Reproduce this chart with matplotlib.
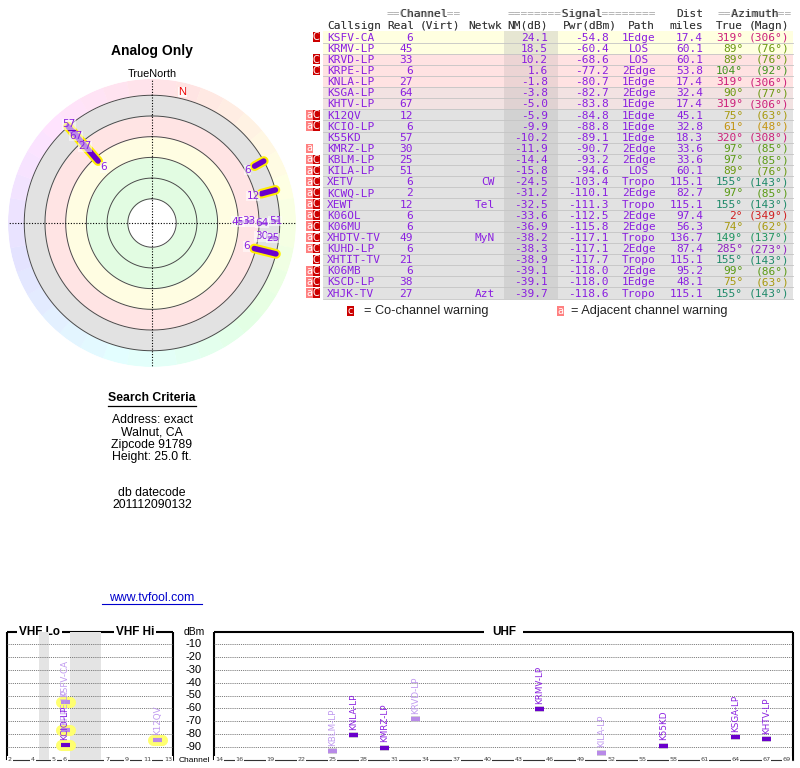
import colorsys
import numpy as np
import matplotlib
matplotlib.use("Agg")
import matplotlib.pyplot as plt
import matplotlib.patheffects as pe
import matplotlib.transforms as mtransforms
from matplotlib.patches import Rectangle

# ---- station table ----
callsigns = ['KSFV-CA', 'KRMV-LP', 'KRVD-LP', 'KRPE-LP', 'KNLA-LP', 'KSGA-LP', 'KHTV-LP',
             'K12QV', 'KCIO-LP', 'K55KD', 'KMRZ-LP', 'KBLM-LP', 'KILA-LP', 'XETV',
             'KCWQ-LP', 'XEWT', 'K06OL', 'K06MU', 'XHDTV-TV', 'KUHD-LP', 'XHTIT-TV',
             'K06MB', 'KSCD-LP', 'XHJK-TV']
real_ch = [6, 45, 33, 6, 27, 64, 67, 12, 6, 57, 30, 25, 51, 6, 2, 12, 6, 6, 49, 6, 21, 6, 38, 27]
networks = ['', '', '', '', '', '', '', '', '', '', '', '', '', 'CW', '', 'Tel', '', '', 'MyN',
            '', '', '', '', 'Azt']
nm_db = [24.1, 18.5, 10.2, 1.6, -1.8, -3.8, -5.0, -5.9, -9.9, -10.2, -11.9, -14.4, -15.8,
         -24.5, -31.2, -32.5, -33.6, -36.9, -38.2, -38.3, -38.9, -39.1, -39.1, -39.7]
pwr_dbm = [-54.8, -60.4, -68.6, -77.2, -80.7, -82.7, -83.8, -84.8, -88.8, -89.1, -90.7, -93.2,
           -94.6, -103.4, -110.1, -111.3, -112.5, -115.8, -117.1, -117.1, -117.7, -118.0,
           -118.0, -118.6]
paths = ['1Edge', 'LOS', 'LOS', '2Edge', '1Edge', '2Edge', '1Edge', '1Edge', '1Edge', '1Edge',
         '2Edge', '2Edge', 'LOS', 'Tropo', '2Edge', 'Tropo', '2Edge', '2Edge', 'Tropo', '2Edge',
         'Tropo', '2Edge', '1Edge', 'Tropo']
dist_mi = [17.4, 60.1, 60.1, 53.8, 17.4, 32.4, 17.4, 45.1, 32.8, 18.3, 33.6, 33.6, 60.1, 115.1,
           82.7, 115.1, 97.4, 56.3, 136.7, 87.4, 115.1, 95.2, 48.1, 115.1]
az_true = [319, 89, 89, 104, 319, 90, 319, 75, 61, 320, 97, 97, 89, 155, 97, 155, 2, 74, 149,
           285, 155, 99, 75, 155]
az_magn = [306, 76, 76, 92, 306, 77, 306, 63, 48, 308, 85, 85, 76, 143, 85, 143, 349, 62, 137,
           273, 143, 86, 63, 143]
warnings = ['C', '', 'C', 'C', '', '', '', 'aC', 'aC', '', 'a', 'aC', 'aC', 'aC', 'aC', 'aC',
            'aC', 'aC', 'aC', 'aC', 'C', 'aC', 'aC', 'aC']
faded = ['KSFV-CA', 'KRVD-LP', 'KRPE-LP', 'K12QV', 'KBLM-LP', 'KILA-LP']
magnetic_decl = 13

criteria = ['Address: exact', 'Walnut, CA', 'Zipcode 91789', 'Height: 25.0 ft.']
datecode = '201112090132'

vhf_ticks = [2, 4, 5, 6, 7, 9, 11, 13]
uhf_ticks = [14, 16, 19, 22, 25, 28, 31, 34, 37, 40, 43, 46, 49, 52, 55, 58, 61, 64, 67, 69]
dbm_ticks = [-10, -20, -30, -40, -50, -60, -70, -80, -90]

# colours
PURPLE = '#8a1fe0'
BAR = '#6a00cc'
az_colors = {319: '#cc1f7a', 320: '#cc1f7a', 89: '#6b9910', 90: '#6b9910', 104: '#3f9420',
             97: '#5a9a14', 99: '#5a9a14', 75: '#a89a10', 74: '#a89a10', 61: '#c49410',
             155: '#1f8a6a', 149: '#1f9460', 2: '#d01f1f', 285: '#9020c0'}

SANS = 'Liberation Sans'
MONO = 'DejaVu Sans Mono'
BASE = 3.6  # baseline offset below row centre (px)

fig = plt.figure(figsize=(8, 7.68), dpi=100)
bg = fig.add_axes([0, 0, 1, 1])
bg.set_xlim(0, 800)
bg.set_ylim(768, 0)
bg.axis('off')

# ---------------- table ----------------
row_y0 = 37.0
row_h = 11.13


def row_colors(nm):
    if nm >= 15:
        return '#ffffe0', '#e6e6d2'
    if nm >= -2:
        return '#ffe2e2', '#ecd4d4'
    if nm >= -5.5:
        return '#f2e2e2', '#e0d2d2'
    return '#e2e2e2', '#d2d2d2'


def mono(x, y, s, color, ha='left'):
    bg.text(x, y + BASE, s, family=MONO, fontsize=8, color=color, ha=ha, va='baseline')


def header(x, y, s, ha='left'):
    mono(x, y, s, '#aaaaaa', ha)
    mono(x, y, s.replace('=', ' '), '#333333', ha)


header(387, 13, '==Channel==')
header(508, 13, '========Signal========')
header(703, 13, 'Dist', ha='right')
header(718, 13, '==Azimuth==')
header(327, 25, 'Callsign')
header(387, 25, 'Real')
header(420, 25, '(Virt)')
header(468, 25, 'Netwk')
header(548, 25, 'NM(dB)', ha='right')
header(563, 25, 'Pwr(dBm)')
header(655, 25, 'Path', ha='right')
header(703, 25, 'miles', ha='right')
header(743, 25, 'True', ha='right')
header(789, 25, '(Magn)', ha='right')

for i, cs in enumerate(callsigns):
    y = row_y0 + i * row_h
    c1, c2 = row_colors(nm_db[i])
    bg.add_patch(Rectangle((323, y - row_h / 2), 470, row_h, color=c1, lw=0))
    bg.add_patch(Rectangle((504, y - row_h / 2), 54, row_h, color=c2, lw=0))
    bg.plot([323, 793], [y + row_h / 2, y + row_h / 2], color='#c4c4c4', lw=0.6)
    mono(327, y, cs, PURPLE)
    mono(413, y, str(real_ch[i]), PURPLE, 'right')
    mono(495, y, networks[i], PURPLE, 'right')
    mono(548, y, '%.1f' % nm_db[i], PURPLE, 'right')
    mono(609, y, '%.1f' % pwr_dbm[i], PURPLE, 'right')
    mono(639, y, paths[i], PURPLE, 'center')
    mono(703, y, '%.1f' % dist_mi[i], PURPLE, 'right')
    ac = az_colors[az_true[i]]
    mono(743, y, '%d°' % az_true[i], ac, 'right')
    mono(789, y, '(%d°)' % az_magn[i], ac, 'right')
    if 'C' in warnings[i]:
        bg.add_patch(Rectangle((312.5, y - 4.8), 7.5, 9.6, color='#cc0000', lw=0))
        bg.text(316.2, y + 3.4, 'C', color='white', fontsize=7, ha='center', va='baseline')
    if 'a' in warnings[i]:
        bg.add_patch(Rectangle((305.5, y - 4.8), 7, 9.6, color='#ff8080', lw=0))
        bg.text(309, y + 3.0, 'a', color='white', fontsize=7, ha='center', va='baseline')

# legend under table
bg.add_patch(Rectangle((346.5, 306), 7.5, 10, color='#cc0000', lw=0))
bg.text(350.2, 314, 'c', color='white', fontsize=7, ha='center', va='baseline')
bg.text(364, 311, '= Co-channel warning', family=SANS, fontsize=9.2, color='#222222',
        va='center')
bg.add_patch(Rectangle((557, 306), 7, 10, color='#ff8080', lw=0))
bg.text(560.5, 314, 'a', color='white', fontsize=7, ha='center', va='baseline')
bg.text(571, 311, '= Adjacent channel warning', family=SANS, fontsize=9.2, color='#222222',
        va='center')

# ---------------- left text ----------------
bg.text(152, 51, 'Analog Only', family=SANS, fontsize=10, weight='bold', ha='center',
        va='center')
bg.text(152, 74, 'TrueNorth', family=SANS, fontsize=7.8, ha='center', va='center')
bg.text(152, 398, 'Search Criteria', family=SANS, fontsize=8.8, weight='bold', ha='center',
        va='center')
bg.plot([108, 196], [405.5, 405.5], color='black', lw=0.9)
for k, line in enumerate(criteria):
    bg.text(152, 420 + k * 12.3, line, family=SANS, fontsize=8.8, ha='center', va='center')
bg.text(152, 493, 'db datecode', family=SANS, fontsize=8.8, ha='center', va='center')
bg.text(152, 505, datecode, family=SANS, fontsize=8.8, ha='center', va='center')
bg.text(152, 598, 'www.tvfool.com', family=SANS, fontsize=8.8, ha='center', va='center',
        color='#0000cc')
bg.plot([102, 202], [604, 604], color='#0000cc', lw=0.8)

# ---------------- polar plot ----------------
RMIN, RMAX = -103.4, 35.7
cx, cy, R = 152, 223, 144
axp = fig.add_axes([(cx - R) / 800, (768 - cy - R) / 768, 2 * R / 800, 2 * R / 768],
                   projection='polar')
axp.set_theta_zero_location('N')
axp.set_theta_direction(-1)
axp.set_rlim(RMIN, RMAX)
axp.set_axis_off()

theta = np.linspace(0, 2 * np.pi, 361)
bands = [(-80, -40, '#e2fce2'), (-40, -20, '#fffde2'), (-20, 0, '#ffe4e4'), (0, 20, '#e2e2e2')]
for r1, r2, col in bands:
    axp.fill_between(theta, r1, r2, color=col, lw=0, zorder=0)

nseg = 36
centers = np.arange(nseg) * 2 * np.pi / nseg + np.pi / nseg
ring_cols = [colorsys.hsv_to_rgb(((np.degrees(t) - magnetic_decl) % 360) / 360, 0.11, 1.0)
             for t in centers]
axp.bar(centers, RMAX - 20, width=2 * np.pi / nseg + 0.002, bottom=20, color=ring_cols,
        lw=0, zorder=0)

for nm in [80, 60, 40, 20, 0, -20]:
    axp.plot(theta, np.full_like(theta, -nm), color='#4a4a4a', lw=0.7, zorder=1)
for ang in [0, 0.5 * np.pi, np.pi, 1.5 * np.pi]:
    axp.plot([ang, ang], [RMIN, RMAX], color='black', lw=0.8, ls=(0, (1, 1.5)), zorder=1)

axp.text(np.radians(magnetic_decl), 26.5, 'N', color='#ee0000', fontsize=8, family=SANS,
         ha='center', va='center',
         bbox=dict(fc='white', ec='none', pad=0.3, alpha=0.8), zorder=3)

label_nudge = {'KNLA-LP': -7, 'KHTV-LP': 3, 'K55KD': 11, 'KMRZ-LP': -9, 'KRMV-LP': -2,
               'KSGA-LP': -1}
for i, cs in enumerate(callsigns):
    if nm_db[i] <= -20:
        continue
    th = np.radians(az_true[i])
    rv = -nm_db[i]
    if real_ch[i] <= 13:
        axp.plot([th, th], [rv, 20], color=BAR, lw=4, solid_capstyle='round', zorder=4,
                 path_effects=[pe.Stroke(linewidth=7, foreground='#ffee00'), pe.Normal()])
        lr = rv - 8
    else:
        axp.plot([th, th], [rv - 2.5, rv + 2.5], color=BAR, lw=2, zorder=4)
        lr = rv + label_nudge.get(cs, 0)
    axp.text(th, lr, str(real_ch[i]), color=PURPLE, fontsize=7.5, ha='center', va='center',
             zorder=5, bbox=dict(fc='white', ec='none', pad=0.2, alpha=0.55))

# ---------------- spectrum ----------------
ybot, ytop = 759.5, 631.5
hgt = (ybot - ytop) / 768
vhf_x = {2: 10, 3: 21.5, 4: 33, 5: 54, 6: 65, 7: 107, 8: 117, 9: 127, 10: 137, 11: 147,
         12: 157.5, 13: 168}
axv = fig.add_axes([7 / 800, (768 - ybot) / 768, 166 / 800, hgt])
axv.set_xlim(7, 173)
axv.set_ylim(-100, 0)
axv.axis('off')
axu = fig.add_axes([214 / 800, (768 - ybot) / 768, 579 / 800, hgt])
axu.set_xlim(13.52, 69.57)
axu.set_ylim(-100, 0)
axu.axis('off')

axv.axvspan(39, 49, color='#e4e4e4', lw=0, zorder=0)
axv.axvspan(70, 101, color='#e4e4e4', lw=0, zorder=0)
for a in (axv, axu):
    for v in dbm_ticks:
        a.axhline(v, color='#666666', lw=0.65, ls=(0, (1, 1.1)), zorder=1)

# frames
fk = dict(color='black', lw=1.5, solid_capstyle='butt')
bg.plot([7, 7], [632, 760], **fk)
bg.plot([173, 173], [632, 760], **fk)
bg.plot([7, 17], [632, 632], **fk)
bg.plot([62, 114], [632, 632], **fk)
bg.plot([156, 173], [632, 632], **fk)
bg.plot([214, 214], [632, 760], **fk)
bg.plot([793, 793], [632, 760], **fk)
bg.plot([214, 484], [632, 632], **fk)
bg.plot([523, 793], [632, 632], **fk)
bg.plot([7, 173], [760, 760], color='#333333', lw=0.8)
bg.plot([214, 793], [760, 760], color='#333333', lw=0.8)
bg.text(39.5, 632, 'VHF Lo', family=SANS, fontsize=8.5, weight='bold', ha='center',
        va='center')
bg.text(135.5, 632, 'VHF Hi', family=SANS, fontsize=8.5, weight='bold', ha='center',
        va='center')
bg.text(504, 632, 'UHF', family=SANS, fontsize=8.5, weight='bold', ha='center', va='center')
bg.text(194, 632, 'dBm', family=SANS, fontsize=7.5, ha='center', va='center')
bg.text(194, 760, 'Channel', family=SANS, fontsize=6, ha='center', va='center')

ytrans = mtransforms.blended_transform_factory(bg.transData, axu.transData)
for v in dbm_ticks:
    bg.text(202, v, str(v), transform=ytrans, family=SANS, fontsize=8, ha='right', va='center')

tk = dict(fontsize=4.6, color='#444444', ha='center', va='center', clip_on=False,
          bbox=dict(fc='white', ec='none', pad=0.4))
for ch in vhf_ticks:
    axv.text(vhf_x[ch], -100, str(ch), **tk)
for ch in uhf_ticks:
    axu.text(ch, -100, str(ch), **tk)

for i, cs in enumerate(callsigns):
    p = pwr_dbm[i]
    if p <= -100:
        continue
    ch = real_ch[i]
    light = cs in faded
    mc = '#b88ae8' if light else BAR
    lc = '#c09af0' if light else PURPLE
    if ch <= 13:
        a, x, half = axv, vhf_x[ch], 4.5
        eff = [pe.Stroke(linewidth=8, foreground='#ffff70', capstyle='round'), pe.Normal()]
    else:
        a, x, half = axu, ch, 0.45
        eff = [pe.Stroke(linewidth=4, foreground='#c8c8c8'), pe.Normal()]
    a.plot([x - half, x + half], [p, p], color=mc, lw=3, solid_capstyle='butt',
           path_effects=eff, zorder=3)
    a.text(x, p + 4, cs, rotation=90, ha='center', va='bottom', fontsize=6.3,
           color=lc, zorder=4)

fig.savefig('out.png', dpi=100)
